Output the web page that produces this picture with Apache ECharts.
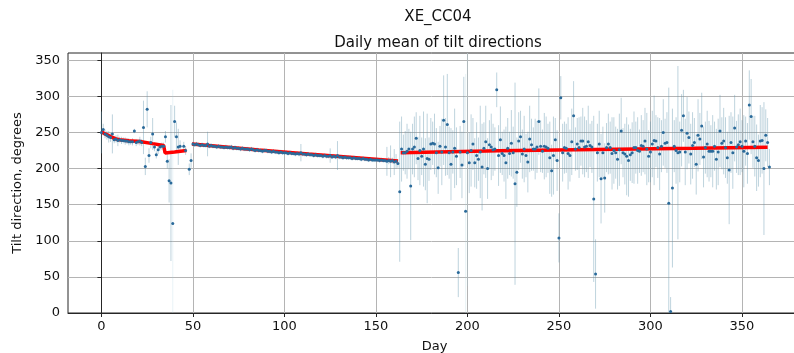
<!DOCTYPE html>
<html><head><meta charset="utf-8">
<script src="https://cdn.jsdelivr.net/npm/echarts@6/dist/echarts.min.js"></script>
<style>html,body{margin:0;padding:0;background:#fff}#c{width:794px;height:353px}</style>
</head><body><div id="c"></div>
<script>
// daily mean tilt direction (degrees), index = day; null = no data
const tiltMean = [
250,254,248,246,244,243,248,240,241,239,
240,239,239,238,238,237,237,237,252,236,
237,238,236,257,203,282,218,236,248,230,
219,226,230,231,231,244,210,183,180,124,
265,244,230,231,null,231,225,null,199,211,
234,233,234,233,232,233,232,232,234,231,
232,231,231,230,231,230,230,229,230,229,
229,230,228,229,228,228,227,228,227,227,
227,226,227,226,225,226,225,225,224,225,
225,224,224,223,224,223,223,222,223,222,
222,222,221,222,221,221,220,221,220,222,
220,220,219,220,219,219,218,219,218,218,
218,217,218,217,217,218,216,217,216,218,
216,216,215,216,215,215,215,214,215,214,
214,214,213,214,213,213,212,213,212,212,
212,212,211,212,211,211,210,211,210,211,
209,210,207,168,227,222,222,224,227,176,
227,230,242,214,225,217,227,206,214,213,
234,235,234,222,201,231,223,267,230,261,
222,206,223,228,217,56,223,205,265,141,
222,208,225,234,208,218,213,223,202,228,
237,200,233,230,226,227,309,218,240,221,
218,208,228,221,235,222,179,195,238,244,
220,227,218,209,241,233,227,227,230,265,
231,224,231,230,228,215,197,218,240,211,
104,298,222,229,228,221,218,237,273,227,
234,229,238,238,230,231,237,232,230,158,
54,222,234,186,222,187,229,234,229,221,
225,222,213,226,252,222,220,217,211,219,
222,229,229,225,224,232,231,238,227,217,
223,234,239,238,229,220,231,250,235,236,
152,2,173,231,225,222,223,253,273,223,
249,243,220,232,236,206,246,241,259,216,
229,234,224,224,224,231,213,223,252,235,
238,229,215,198,236,222,256,230,233,237,
231,224,238,221,288,272,237,231,215,211,
238,239,200,246,236,202
];
// error bar half-lengths (degrees), index = day
const tiltErr = [
29,8,6,6,8,6,27,5,5,8,
4,5,4,5,4,5,4,5,3,5,
4,6,5,37,12,25,10,8,22,6,
5,6,5,5,5,8,10,30,108,185,
22,20,25,8,0,6,6,0,8,10,
3,3,3,3,3,3,3,3,17,3,
3,3,3,3,3,3,3,3,3,3,
3,3,3,3,3,3,3,3,3,3,
3,3,3,3,3,3,3,3,3,3,
3,3,3,3,3,3,3,3,3,3,
3,3,3,3,3,3,3,3,3,12,
3,3,3,3,3,3,3,3,3,3,
3,3,3,3,3,10,3,3,3,20,
3,3,3,3,3,3,3,3,3,3,
3,3,3,3,3,3,3,3,3,3,
3,3,3,3,3,3,20,5,22,4,
18,10,6,97,45,25,30,38,28,75,
35,42,36,30,48,26,52,36,62,30,
36,30,42,34,36,28,46,62,40,70,
36,50,30,55,40,34,36,46,62,190,
185,42,50,36,34,46,30,64,60,36,
50,42,34,46,36,30,24,42,46,30,
36,50,42,30,46,36,140,48,40,36,
34,46,30,42,46,36,30,42,36,46,
36,30,46,42,34,50,36,54,30,42,
34,30,40,36,34,50,36,46,48,30,
36,42,34,46,42,36,50,30,36,115,
48,40,46,62,36,48,34,42,36,50,
46,36,42,50,46,34,42,54,50,36,
42,50,36,46,30,42,36,46,50,36,
42,46,62,36,42,50,36,46,34,42,
160,20,110,36,46,120,42,50,36,46,
50,36,42,46,34,42,50,36,46,42,
36,46,42,36,50,34,42,46,50,36,
46,42,36,75,42,50,46,36,42,46,
36,50,34,42,48,52,36,42,46,36,
50,46,92,36,34,25
];
// fitted trend, three segments: [day, degrees]
const fitSeg1 = [[0,251],[2,248],[4,245.5],[6,243],[8,241],[10,240],[15,238.5],[21,237.5],[28,234.5],[34,232],[34.8,221.5],[40,223],[46.5,225]];
const fitSeg2 = [[49.5,234],[86,225.6],[113,220],[162,210.5]];
const fitSeg3 = [[163.5,222],[217,224.5],[324,228],[364,229.5]];

const pts = [], bars = [];
tiltMean.forEach((v, d) => {
  if (v === null) return;
  pts.push([d, v]);
  const e = tiltErr[d];
  bars.push([d, v - e, v + e, e]);
});

const font = 'DejaVu Sans';
const chart = echarts.init(document.getElementById('c'), null, {renderer: 'canvas'});
chart.setOption({
  animation: false,
  backgroundColor: '#fff',
  title: [
    {text: 'XE_CC04', left: 433, top: 5, textAlign: 'center',
     textStyle: {fontSize: 15, fontWeight: 'normal', fontFamily: font, color: '#111'}},
    {text: 'Daily mean of tilt directions', left: 433, top: 31, textAlign: 'center',
     textStyle: {fontSize: 15, fontWeight: 'normal', fontFamily: font, color: '#111'}}
  ],
  grid: {left: 68, top: 53, width: 733, height: 260, show: true, borderColor: '#262626', borderWidth: 1,
         containLabel: false, outerBoundsMode: 'none'},
  xAxis: {
    type: 'value', min: -18.25, max: 382.25, splitNumber: 8,
    name: 'Day', nameLocation: 'middle', nameGap: 27,
    nameTextStyle: {fontSize: 13, fontFamily: font, color: '#111'},
    axisLine: {show: true, lineStyle: {color: '#262626'}},
    axisTick: {show: true, length: 4, lineStyle: {color: '#262626'}},
    axisLabel: {fontSize: 13, fontFamily: font, color: '#111', margin: 7, showMinLabel: false, showMaxLabel: false},
    splitLine: {show: true, showMinLine: false, showMaxLine: false, lineStyle: {color: '#b4b4b4', width: 1}}
  },
  yAxis: {
    type: 'value', min: 0, max: 360, interval: 50,
    name: 'Tilt direction, degrees', nameLocation: 'middle', nameGap: 43,
    nameTextStyle: {fontSize: 13, fontFamily: font, color: '#111'},
    axisLine: {show: true, lineStyle: {color: '#262626'}},
    axisTick: {show: true, length: 4, lineStyle: {color: '#262626'}},
    axisLabel: {fontSize: 13, fontFamily: font, color: '#111', margin: 8, showMaxLabel: false},
    splitLine: {show: true, showMinLine: false, showMaxLine: false, lineStyle: {color: '#b4b4b4', width: 1}}
  },
  series: [
    {
      type: 'custom', data: bars, clip: true, z: 1,
      encode: {x: 0, y: [1, 2]},
      renderItem: function (params, api) {
        const d = api.value(0), lo = api.value(1), hi = api.value(2), e = api.value(3);
        const p1 = api.coord([d, lo]), p2 = api.coord([d, hi]);
        return {type: 'line', shape: {x1: p1[0], y1: p1[1], x2: p2[0], y2: p2[1]},
          style: {stroke: e > 170 ? 'rgba(170,210,222,0.25)' : 'rgba(100,150,175,0.42)', lineWidth: 1}};
      }
    },
    {type: 'line', data: fitSeg1, showSymbol: false, z: 2, lineStyle: {color: '#f00', width: 3.5}},
    {type: 'line', data: fitSeg2, showSymbol: false, z: 2, lineStyle: {color: '#f00', width: 3.5}},
    {type: 'line', data: fitSeg3, showSymbol: false, z: 2, lineStyle: {color: '#f00', width: 3.5}},
    {type: 'scatter', data: pts, symbolSize: 3, z: 3, itemStyle: {color: '#2a6a9a', opacity: 1}}
  ]
});
</script>
</body></html>
